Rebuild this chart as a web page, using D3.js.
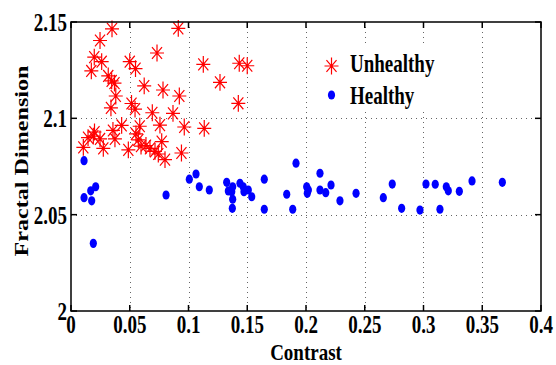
<!DOCTYPE html>
<html>
<head>
<meta charset="utf-8">
<script src="https://cdn.jsdelivr.net/npm/d3@7"></script>
<style>
  html, body { margin: 0; padding: 0; background: #fff; }
  svg { display: block; }
  text { font-family: "Liberation Serif", "Times New Roman", serif; font-weight: bold; fill: #000; }
</style>
</head>
<body>
<div id="chart"></div>
<script>
// --- data ---
const unhealthyX = [0.0349,0.0913,0.0247,0.0732,0.0198,0.0261,0.0500,0.0549,0.0173,0.0317,0.0346,0.0370,0.0623,0.0783,0.0922,0.0381,0.0515,0.0340,0.0545,0.0692,0.0868,0.0431,0.0585,0.0757,0.0964,0.1134,0.0200,0.0357,0.0190,0.0145,0.0247,0.0374,0.0553,0.0573,0.0772,0.0105,0.0275,0.0488,0.0638,0.0672,0.0715,0.0743,0.0800,0.0940,0.1126,0.1432,0.1500,0.1268,0.1424,0.0596];
const unhealthyY = [2.1464,2.1467,2.1404,2.1339,2.1318,2.1294,2.1294,2.1258,2.1246,2.1220,2.1194,2.1183,2.1168,2.1147,2.1116,2.1116,2.1077,2.1054,2.1048,2.1029,2.1026,2.0963,2.0959,2.0965,2.0955,2.0948,2.0929,2.0937,2.0908,2.0900,2.0893,2.0893,2.0919,2.0888,2.0879,2.0849,2.0844,2.0836,2.0859,2.0844,2.0828,2.0815,2.0786,2.0820,2.1280,2.1286,2.1273,2.1187,2.1078,2.0856];

const healthyX = [0.0111,0.0210,0.0168,0.0111,0.0176,0.0190,0.0809,0.1007,0.1064,0.1092,0.1177,0.1325,0.1339,0.1376,0.1368,0.1376,0.1373,0.1438,0.1466,0.1472,0.1509,0.1538,0.1645,0.1645,0.1836,0.1915,0.1887,0.2006,0.2020,0.2011,0.2119,0.2119,0.2168,0.2213,0.2289,0.2426,0.2658,0.2734,0.2814,0.2970,0.3021,0.3100,0.3140,0.3194,0.3211,0.3305,0.3413,0.3671];
const healthyY = [2.0780,2.0645,2.0624,2.0588,2.0572,2.0351,2.0602,2.0684,2.0711,2.0645,2.0628,2.0668,2.0623,2.0645,2.0619,2.0580,2.0533,2.0663,2.0645,2.0619,2.0628,2.0593,2.0684,2.0528,2.0606,2.0767,2.0528,2.0645,2.0628,2.0611,2.0715,2.0628,2.0614,2.0654,2.0572,2.0611,2.0588,2.0659,2.0533,2.0524,2.0659,2.0658,2.0528,2.0645,2.0624,2.0621,2.0675,2.0668];

const xTicks = [0, 0.05, 0.1, 0.15, 0.2, 0.25, 0.3, 0.35, 0.4];
const xTickLabels = ["0", "0.05", "0.1", "0.15", "0.2", "0.25", "0.3", "0.35", "0.4"];
const yTicks = [2, 2.05, 2.1, 2.15];
const yTickLabels = ["2", "2.05", "2.1", "2.15"];
const seriesNames = ["Unhealthy", "Healthy"];

// --- layout ---
const W = 556, H = 365;
const mLeft = 71, mRight = 541, mTop = 22, mBottom = 311;
const vStretch = 1.27; // text in the picture looks taller than wide

const x = d3.scaleLinear().domain([0, 0.4]).range([mLeft, mRight]);
const y = d3.scaleLinear().domain([2, 2.15]).range([mBottom, mTop]);

const svg = d3.select("#chart").append("svg")
  .attr("width", W).attr("height", H);

// grid (dotted)
const grid = svg.append("g").attr("stroke", "#666").attr("stroke-width", 1)
  .attr("stroke-dasharray", "1,4");
grid.selectAll("line.gx").data(xTicks.slice(1, -1)).join("line")
  .attr("x1", (d) => Math.round(x(d)) + 0.5).attr("x2", (d) => Math.round(x(d)) + 0.5)
  .attr("y1", mTop).attr("y2", mBottom);
grid.selectAll("line.gy").data(yTicks.slice(1, -1)).join("line")
  .attr("x1", mLeft).attr("x2", mRight)
  .attr("y1", (d) => Math.round(y(d)) + 0.5).attr("y2", (d) => Math.round(y(d)) + 0.5);

// legend background hides the grid under it
svg.append("rect").attr("x", 314).attr("y", 44).attr("width", 140).attr("height", 68)
  .attr("fill", "#fff");

// asterisk marker path
function star(cx, cy, s) {
  const h = s, v = s * 1.2, dh = s * 0.72, dv = s * 0.85;
  return `M${cx - h},${cy}L${cx + h},${cy}M${cx},${cy - v}L${cx},${cy + v}` +
    `M${cx - dh},${cy - dv}L${cx + dh},${cy + dv}M${cx - dh},${cy + dv}L${cx + dh},${cy - dv}`;
}

const unhealthy = unhealthyX.map((v, i) => ({ x: v, y: unhealthyY[i] }));
const healthy = healthyX.map((v, i) => ({ x: v, y: healthyY[i] }));

svg.append("g").selectAll("path").data(unhealthy).join("path")
  .attr("d", (d) => star(x(d.x), y(d.y), 7))
  .attr("stroke", "#ff0000").attr("stroke-width", 1.2).attr("fill", "none");

svg.append("g").selectAll("ellipse").data(healthy).join("ellipse")
  .attr("cx", (d) => x(d.x)).attr("cy", (d) => y(d.y))
  .attr("rx", 3.6).attr("ry", 4.6)
  .attr("fill", "#0000ff");

// axes: box with inward ticks on every side
const axes = svg.append("g").attr("stroke", "#000").attr("stroke-width", 1.5).attr("fill", "none");
axes.append("rect").attr("x", mLeft).attr("y", mTop).attr("width", mRight - mLeft).attr("height", mBottom - mTop);
xTicks.forEach((t) => {
  axes.append("line").attr("x1", x(t)).attr("x2", x(t)).attr("y1", mBottom).attr("y2", mBottom - 6);
  axes.append("line").attr("x1", x(t)).attr("x2", x(t)).attr("y1", mTop).attr("y2", mTop + 6);
});
yTicks.forEach((t) => {
  axes.append("line").attr("x1", mLeft).attr("x2", mLeft + 6).attr("y1", y(t)).attr("y2", y(t));
  axes.append("line").attr("x1", mRight).attr("x2", mRight - 6).attr("y1", y(t)).attr("y2", y(t));
});

// tick labels
svg.append("g").selectAll("text").data(xTicks).join("text")
  .attr("transform", (d) => `translate(${x(d)},333) scale(1,${vStretch})`)
  .attr("text-anchor", "middle").attr("font-size", 19)
  .text((d, i) => xTickLabels[i]);

svg.append("g").selectAll("text").data(yTicks).join("text")
  .attr("transform", (d) => `translate(67,${y(d) + 9}) scale(1,${vStretch})`)
  .attr("text-anchor", "end").attr("font-size", 19)
  .text((d, i) => yTickLabels[i]);

// axis titles
svg.append("text")
  .attr("transform", "translate(306,360) scale(1,1.2)")
  .attr("text-anchor", "middle").attr("font-size", 19)
  .text("Contrast");

svg.append("text")
  .attr("transform", `translate(28,161) rotate(-90) scale(${vStretch},1)`)
  .attr("text-anchor", "middle").attr("font-size", 19)
  .text("Fractal Dimension");

// legend
const legend = svg.append("g");
legend.append("path").attr("d", star(331.5, 66, 7))
  .attr("stroke", "#ff0000").attr("stroke-width", 1.2).attr("fill", "none");
legend.append("ellipse").attr("cx", 331.5).attr("cy", 95).attr("rx", 3.6).attr("ry", 4.6)
  .attr("fill", "#0000ff");
legend.selectAll("text").data(seriesNames).join("text")
  .attr("transform", (d, i) => `translate(350,${i === 0 ? 72 : 104}) scale(1,${vStretch})`)
  .attr("font-size", 19)
  .text((d) => d);
</script>
</body>
</html>
